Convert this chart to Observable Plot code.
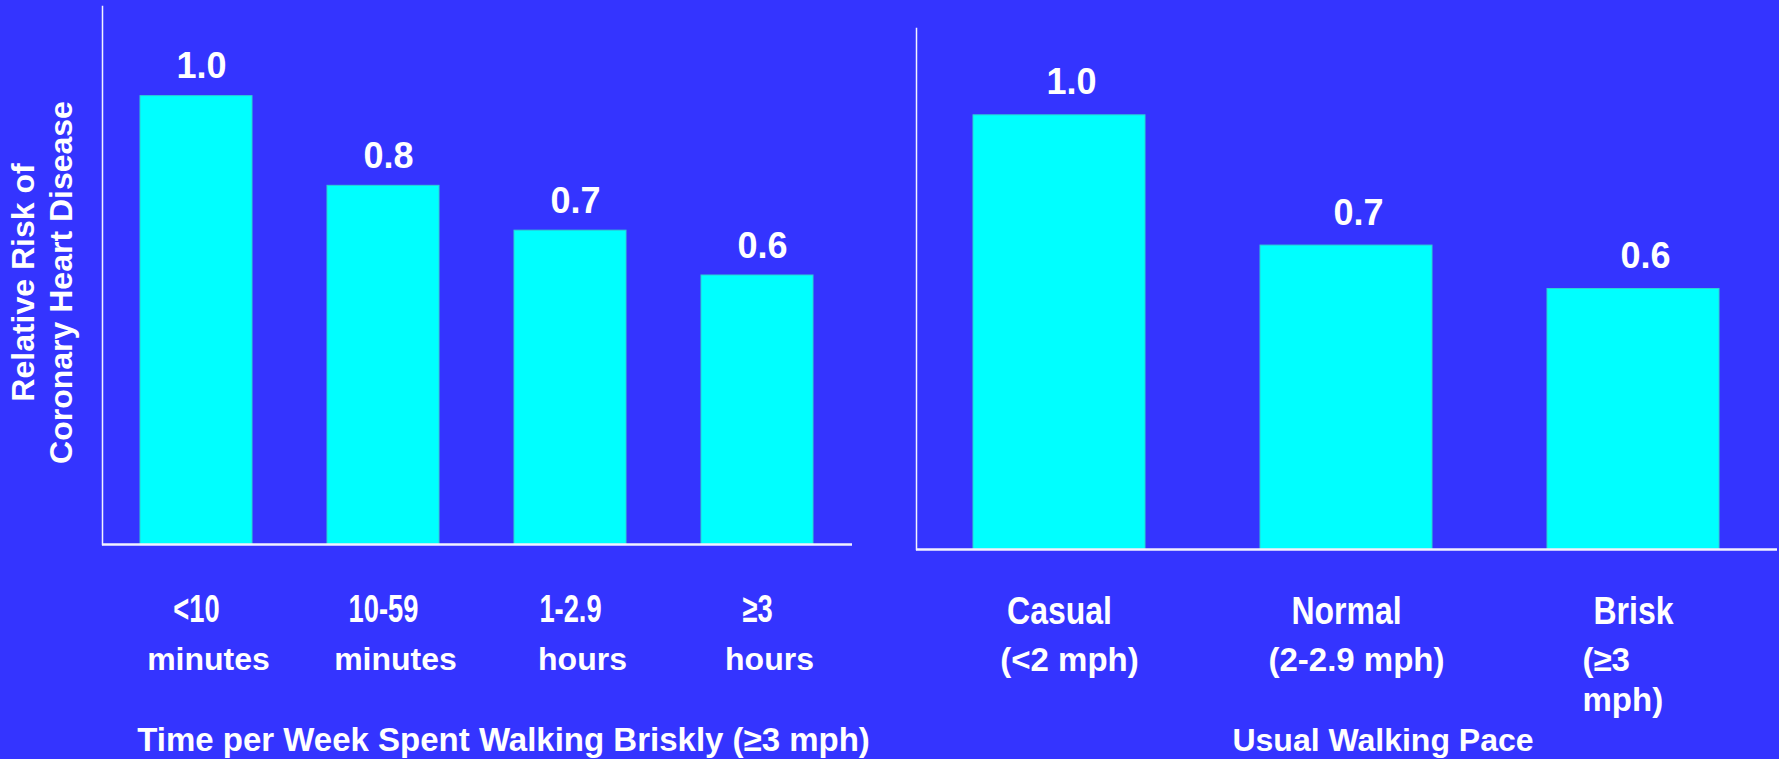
<!DOCTYPE html>
<html>
<head>
<meta charset="utf-8">
<script src="https://cdn.jsdelivr.net/npm/d3@7"></script>
<script src="https://cdn.jsdelivr.net/npm/@observablehq/plot@0.6"></script>
<style>
  html, body { margin: 0; padding: 0; background: #3434ff; }
  #chart { position: relative; width: 1779px; height: 759px; overflow: hidden; background: #3434ff; }
  #chart svg { position: absolute; top: 0; overflow: visible; }
</style>
</head>
<body>
<div id="chart"></div>
<script>
// Weekly brisk-walking time vs. relative risk of coronary heart disease
const durationCategories = ["<10", "10-59", "1-2.9", "≥3"];
const durationUnits = ["minutes", "minutes", "hours", "hours"];
const durationRisk = [1.0, 0.8, 0.7, 0.6];

// Usual walking pace vs. relative risk
const paceCategories = ["Casual", "Normal", "Brisk"];
const paceSpeeds = ["(<2 mph)", "(2-2.9 mph)", "(≥3\nmph)"];
const paceRisk = [1.0, 0.7, 0.6];

const yLabel = "Relative Risk of\nCoronary Heart Disease";
const leftTitle = "Time per Week Spent Walking Briskly (≥3 mph)";
const rightTitle = "Usual Walking Pace";

const FONT = "'Liberation Sans', Arial, Helvetica, sans-serif";
const BAR = "#00ffff";
const BAR_EDGE = "#2cd2d2";
const LINE = "#f2f2ff";

const durationData = durationCategories.map((c, i) => ({cat: c, unit: durationUnits[i], risk: durationRisk[i]}));
const paceData = paceCategories.map((c, i) => ({cat: c, speed: paceSpeeds[i], risk: paceRisk[i]}));

// Squeeze the bold category labels horizontally (narrow lettering)
function condense(svg, labels, k) {
  d3.select(svg).selectAll("text").each(function () {
    if (!labels.includes(this.textContent)) return;
    let t = this.getAttribute("transform");
    if (!t) {
      const x = +this.getAttribute("x") || 0, y = +this.getAttribute("y") || 0;
      this.removeAttribute("x"); this.removeAttribute("y");
      t = `translate(${x},${y})`;
    }
    this.setAttribute("transform", `${t} scale(${k},1)`);
  });
}

const textStyle = {fill: "white", fontWeight: "bold"};

function panel({data, categories, width, height, margins, catDy, subMarks, title, titleSize, titleDx, titleDy, valueDy, valueDx, extra = []}) {
  return Plot.plot({
    width, height,
    ...margins,
    style: {background: "transparent", color: "white", fontFamily: FONT, overflow: "visible"},
    x: {type: "band", domain: categories, paddingInner: 0.4, paddingOuter: 0.2, axis: null},
    y: {domain: [0, 1.2], axis: null},
    marks: [
      Plot.barY(data, {x: "cat", y: "risk", fill: BAR, stroke: BAR_EDGE, strokeWidth: 1}),
      Plot.frame({anchor: "left", stroke: LINE, strokeWidth: 1.5}),
      Plot.ruleY([0], {stroke: LINE, strokeWidth: 2.5}),
      Plot.text(data, {
        x: "cat", y: "risk", text: d => d.risk.toFixed(1),
        lineAnchor: "bottom", dy: valueDy, dx: valueDx, fontSize: 36, ...textStyle
      }),
      Plot.text(data, {
        x: "cat", text: "cat", frameAnchor: "bottom", lineAnchor: "bottom", dy: catDy,
        fontSize: 39, ...textStyle
      }),
      ...subMarks,
      Plot.text([title], {
        frameAnchor: "bottom", lineAnchor: "bottom", dy: titleDy, dx: titleDx,
        fontSize: titleSize, ...textStyle
      }),
      ...extra
    ]
  });
}

const chart = document.getElementById("chart");

// Left panel: time per week
const left = panel({
  data: durationData, categories: durationCategories,
  width: 890, height: 759,
  margins: {marginLeft: 102, marginRight: 38, marginTop: 6, marginBottom: 215},
  catDy: 77,
  subMarks: [
    Plot.text(durationData, {
      x: "cat", text: "unit", frameAnchor: "bottom", lineAnchor: "top", lineHeight: 1.2,
      dy: 98.7, dx: 12, fontSize: 32, ...textStyle
    })
  ],
  title: leftTitle, titleSize: 33, titleDx: 26, titleDy: 206,
  valueDy: -18, valueDx: 5,
  extra: [
    Plot.text([yLabel], {
      frameAnchor: "left", textAnchor: "middle", rotate: -90, lineAnchor: "middle", lineHeight: 1.2,
      dx: -62, dy: 7, fontSize: 32, ...textStyle
    })
  ]
});
left.style.left = "0px";
chart.appendChild(left);
condense(left, durationCategories, 0.70);

// Right panel: walking pace
const right = panel({
  data: paceData, categories: paceCategories,
  width: 899, height: 759,
  margins: {marginLeft: 36, marginRight: 2, marginTop: 28, marginBottom: 210},
  catDy: 74,
  subMarks: [
    Plot.text(paceData.slice(0, 2), {
      x: "cat", text: "speed", frameAnchor: "bottom", lineAnchor: "top", lineHeight: 1.2,
      dy: 93.7, dx: 10, fontSize: 33, ...textStyle
    }),
    Plot.text(paceData.slice(2), {
      x: "cat", text: "speed", frameAnchor: "bottom", lineAnchor: "top", lineHeight: 1.2,
      textAnchor: "start", dy: 93.7, dx: -51, fontSize: 33, ...textStyle
    })
  ],
  title: rightTitle, titleSize: 32, titleDx: 36, titleDy: 201,
  valueDy: -21, valueDx: 12
});
right.style.left = "880px";
chart.appendChild(right);
condense(right, paceCategories, 0.82);
</script>
</body>
</html>
